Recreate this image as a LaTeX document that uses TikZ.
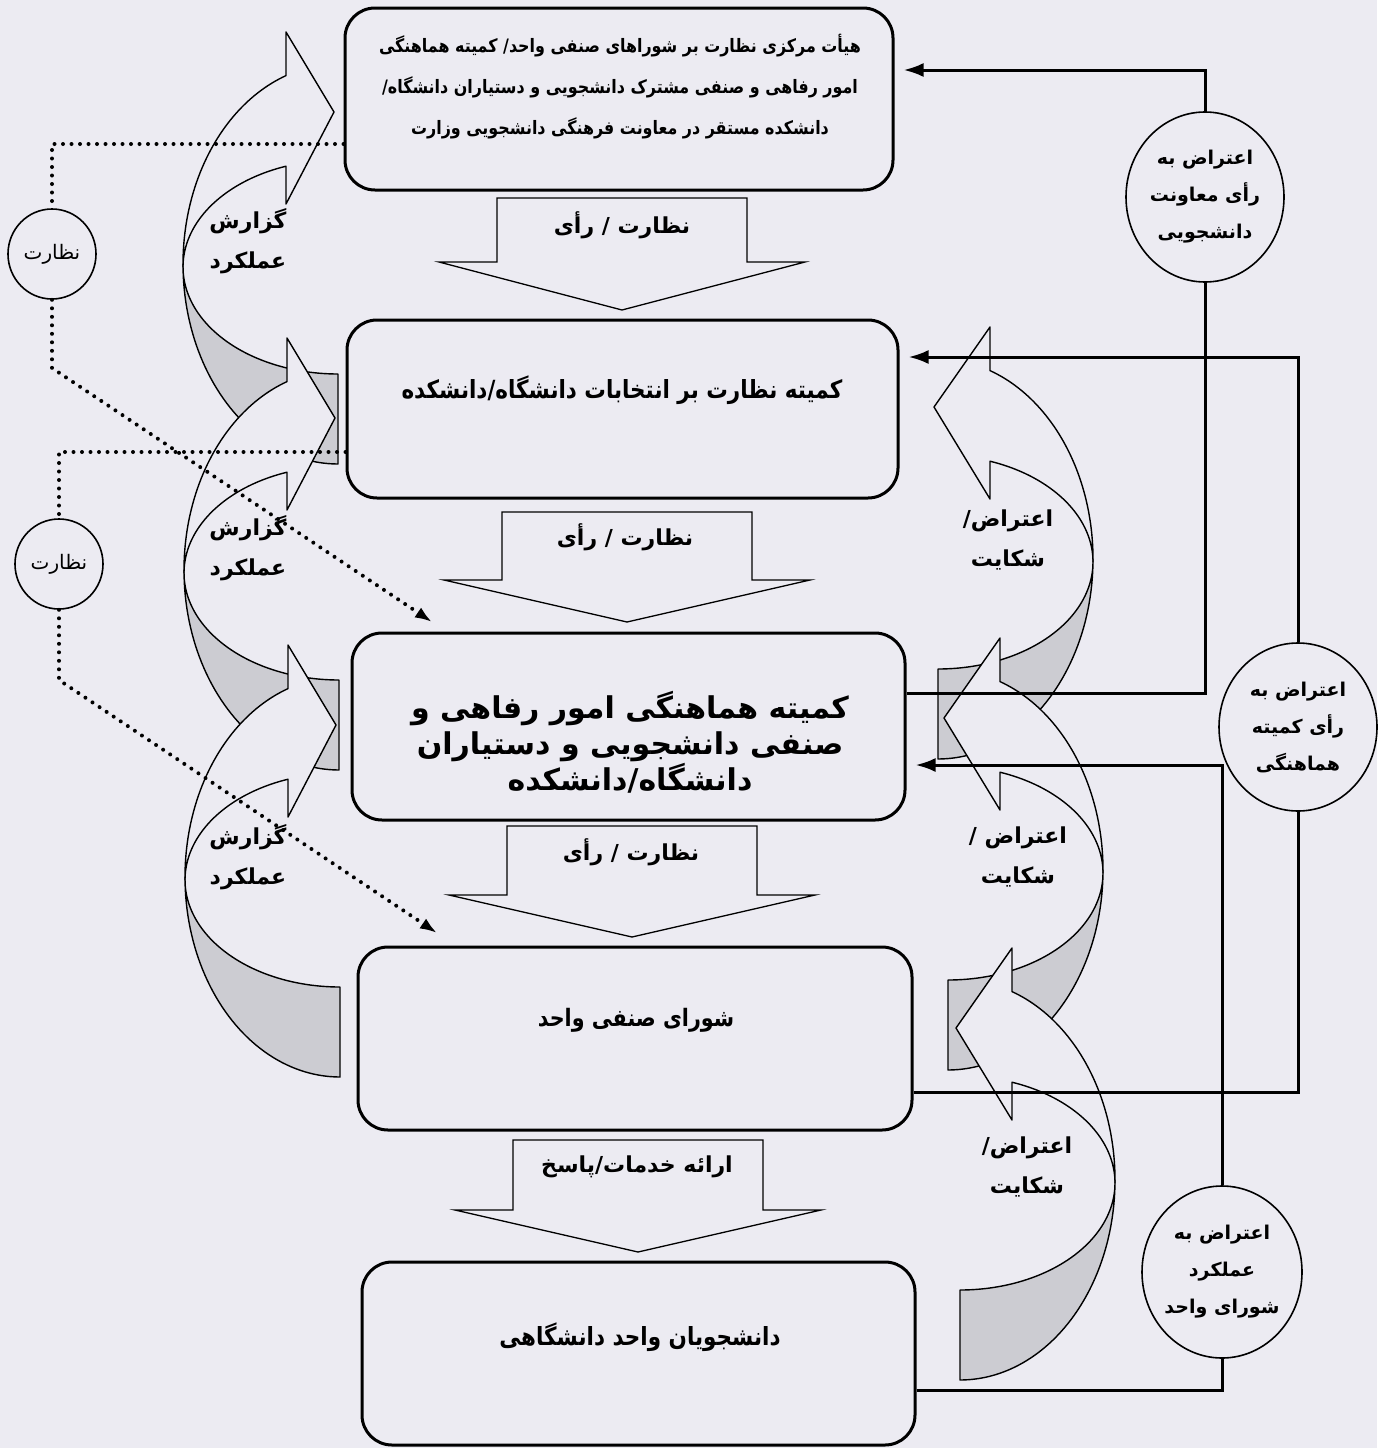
\documentclass[tikz,border=0pt]{standalone}
\usepackage{fontspec}
\TeXXeTstate=1
\newfontfamily\fa[Script=Arabic]{DejaVu Sans}
\newfontfamily\fan[Script=Arabic,FakeStretch=0.86]{DejaVu Sans}
\usetikzlibrary{arrows.meta,shapes.geometric}
\definecolor{paper}{RGB}{236,235,242}
\definecolor{shade}{RGB}{204,204,210}
\newcommand\rl[1]{\beginR #1\endR}
% curved block arrow: #1 tail x, #2 centre y, #3 bulge direction (-1 left, 1 right)
\newcommand\curvarr[3]{%
  \filldraw[fill=shade,draw=black,line width=1.4pt,line join=round]
    plot[domain=90:0,samples=50,variable=\q] ({#1+(#3)*155*cos(\q)},{#2+200*sin(\q)})
    -- plot[domain=0:90,samples=50,variable=\q] ({#1+(#3)*155*cos(\q)},{#2+3+107*sin(\q)})
    -- cycle;
  \filldraw[fill=paper,draw=black,line width=1.4pt,line join=round]
    plot[domain=0:-70.4,samples=50,variable=\q] ({#1+(#3)*155*cos(\q)},{#2+200*sin(\q)})
    -- ({#1+(#3)*52},{#2-232}) -- ({#1-4},{#2-152}) -- ({#1+(#3)*52},{#2-60})
    -- plot[domain=-70.4:0,samples=50,variable=\q] ({#1+(#3)*155*cos(\q)},{#2+3+107*sin(\q)})
    -- cycle;}
% down block arrow: #1 centre x, #2 top, #3 shaft bottom, #4 tip
\newcommand\blockarr[4]{%
  \draw[blk] ({#1-125},#2) -- ({#1+125},#2) -- ({#1+125},#3) -- ({#1+183},#3)
    -- (#1,#4) -- ({#1-183},#3) -- ({#1-125},#3) -- cycle;}
\begin{document}
\begin{tikzpicture}[x=1pt,y=-1pt,
  box/.style={draw,line width=3pt,rounded corners=30pt,inner sep=0pt,fill=paper},
  blk/.style={line width=1.3pt,fill=paper,line join=miter},
  conn/.style={line width=3pt},
  arr/.style={-{Latex[length=20pt,width=14pt]},shorten >=9pt},
  dots/.style={line width=4pt,line cap=round,dash pattern=on 0pt off 8.5pt},
  darr/.style={-{Latex[length=17pt,width=12pt]}},
  circ/.style={draw,ellipse,line width=1.6pt,inner sep=0pt,fill=paper},
  lbl/.style={font=\fa\bfseries\fontsize{22}{40}\selectfont,align=center,inner sep=0pt},
  ctext/.style={font=\fa\bfseries\fontsize{19}{37}\selectfont,align=center,inner sep=0pt},
]
\fill[paper] (0,0) rectangle (1377,1448);
\useasboundingbox (0,0) rectangle (1377,1448);

% left curved arrows
\curvarr{338}{264}{-1}
\curvarr{339}{570}{-1}
\curvarr{340}{877}{-1}
% right curved arrows
\curvarr{938}{559}{1}
\curvarr{948}{870}{1}
\curvarr{960}{1180}{1}

% boxes
\node[box,minimum width=548pt,minimum height=182pt] (b1) at (619,99) {};
\node[box,minimum width=551pt,minimum height=178pt] (b2) at (622.5,409) {};
\node[box,minimum width=553pt,minimum height=187pt] (b3) at (628.5,726.5) {};
\node[box,minimum width=554pt,minimum height=183pt] (b4) at (635,1038.5) {};
\node[box,minimum width=553pt,minimum height=183pt] (b5) at (638.5,1353.5) {};

\node[font=\fan\bfseries\fontsize{18.5}{41}\selectfont,align=center] (b1t) at (620,86.5)
  {\rl{هیأت مرکزی نظارت بر شوراهای صنفی واحد/ کمیته هماهنگی}\\
   \rl{امور رفاهی و صنفی مشترک دانشجویی و دستیاران دانشگاه/}\\
   \rl{دانشکده مستقر در معاونت فرهنگی دانشجویی وزارت}};
\node[font=\fan\bfseries\fontsize{25}{30}\selectfont] (b2t) at (622,390)
  {\rl{کمیته نظارت بر انتخابات دانشگاه/دانشکده}};
\node[font=\fa\bfseries\fontsize{30}{36}\selectfont,align=center] (b3t) at (630,742)
  {\rl{کمیته هماهنگی امور رفاهی و}\\ \rl{صنفی دانشجویی و دستیاران}\\ \rl{دانشگاه/دانشکده}};
\node[font=\fan\bfseries\fontsize{24}{30}\selectfont] (b4t) at (636,1020)
  {\rl{شورای صنفی واحد}};
\node[font=\fan\bfseries\fontsize{25}{30}\selectfont] (b5t) at (640,1337)
  {\rl{دانشجویان واحد دانشگاهی}};

% down block arrows
\blockarr{622}{198}{262}{310}
\blockarr{627}{512}{580}{622}
\blockarr{632}{826}{895}{937}
\blockarr{638}{1140}{1210}{1252}
\node[lbl] (a1t) at (622,225) {\rl{نظارت / رأی}};
\node[lbl] (a2t) at (625,537) {\rl{نظارت / رأی}};
\node[lbl] (a3t) at (631,852) {\rl{نظارت / رأی}};
\node[lbl] (a4t) at (637,1167) {\rl{ارائه خدمات/پاسخ}};

% curved arrow labels
\node[lbl] (g1) at (248,241) {\rl{گزارش}\\ \rl{عملکرد}};
\node[lbl] (g2) at (248,548) {\rl{گزارش}\\ \rl{عملکرد}};
\node[lbl] (g3) at (248,857) {\rl{گزارش}\\ \rl{عملکرد}};
\node[lbl] (e1) at (1008,540) {\rl{اعتراض/}\\ \rl{شکایت}};
\node[lbl] (e2) at (1018,857) {\rl{اعتراض /}\\ \rl{شکایت}};
\node[lbl] (e3) at (1027,1167) {\rl{اعتراض/}\\ \rl{شکایت}};

% right circles
\node[circ,minimum width=158pt,minimum height=170pt] (c1) at (1205,197) {};
\node[circ,minimum width=158pt,minimum height=168pt] (c2) at (1298,727) {};
\node[circ,minimum width=160pt,minimum height=172pt] (c3) at (1222,1272) {};
\node[ctext] (c1t) at (c1) {\rl{اعتراض به}\\ \rl{رأی معاونت}\\ \rl{دانشجویی}};
\node[ctext] (c2t) at (c2) {\rl{اعتراض به}\\ \rl{رأی کمیته}\\ \rl{هماهنگی}};
\node[ctext] (c3t) at (c3) {\rl{اعتراض به}\\ \rl{عملکرد}\\ \rl{شورای واحد}};

% right connectors
\draw[conn] (b3.east |- 0,693) -| (c1.south);
\draw[conn,arr] (c1.north) |- (b1.east |- 0,70);
\draw[conn] (b4.east |- 0,1092) -| (c2.south);
\draw[conn,arr] (c2.north) |- (b2.east |- 0,357);
\draw[conn] (b5.east |- 0,1390) -| (c3.south);
\draw[conn,arr] (c3.north) |- (b3.east |- 0,765);

% left supervision circles
\node[circ,minimum width=88pt,minimum height=90pt] (n1) at (52,254) {};
\node[circ,minimum width=88pt,minimum height=90pt] (n2) at (59,564) {};
\node[font=\fa\fontsize{20}{24}\selectfont] (n1t) at (n1) {\rl{نظارت}};
\node[font=\fa\fontsize{20}{24}\selectfont] (n2t) at (n2) {\rl{نظارت}};
\coordinate (t1) at (432,622);
\coordinate (t2) at (437,933);

\draw[dots] (b1.west |- 0,144) -| (n1.north);
\draw[dots,darr] (n1.south) -- (n1.south |- 0,368) -- (t1);
\draw[dots] (b2.west |- 0,452) -| (n2.north);
\draw[dots,darr] (n2.south) -- (n2.south |- 0,680) -- (t2);
\end{tikzpicture}
\end{document}
